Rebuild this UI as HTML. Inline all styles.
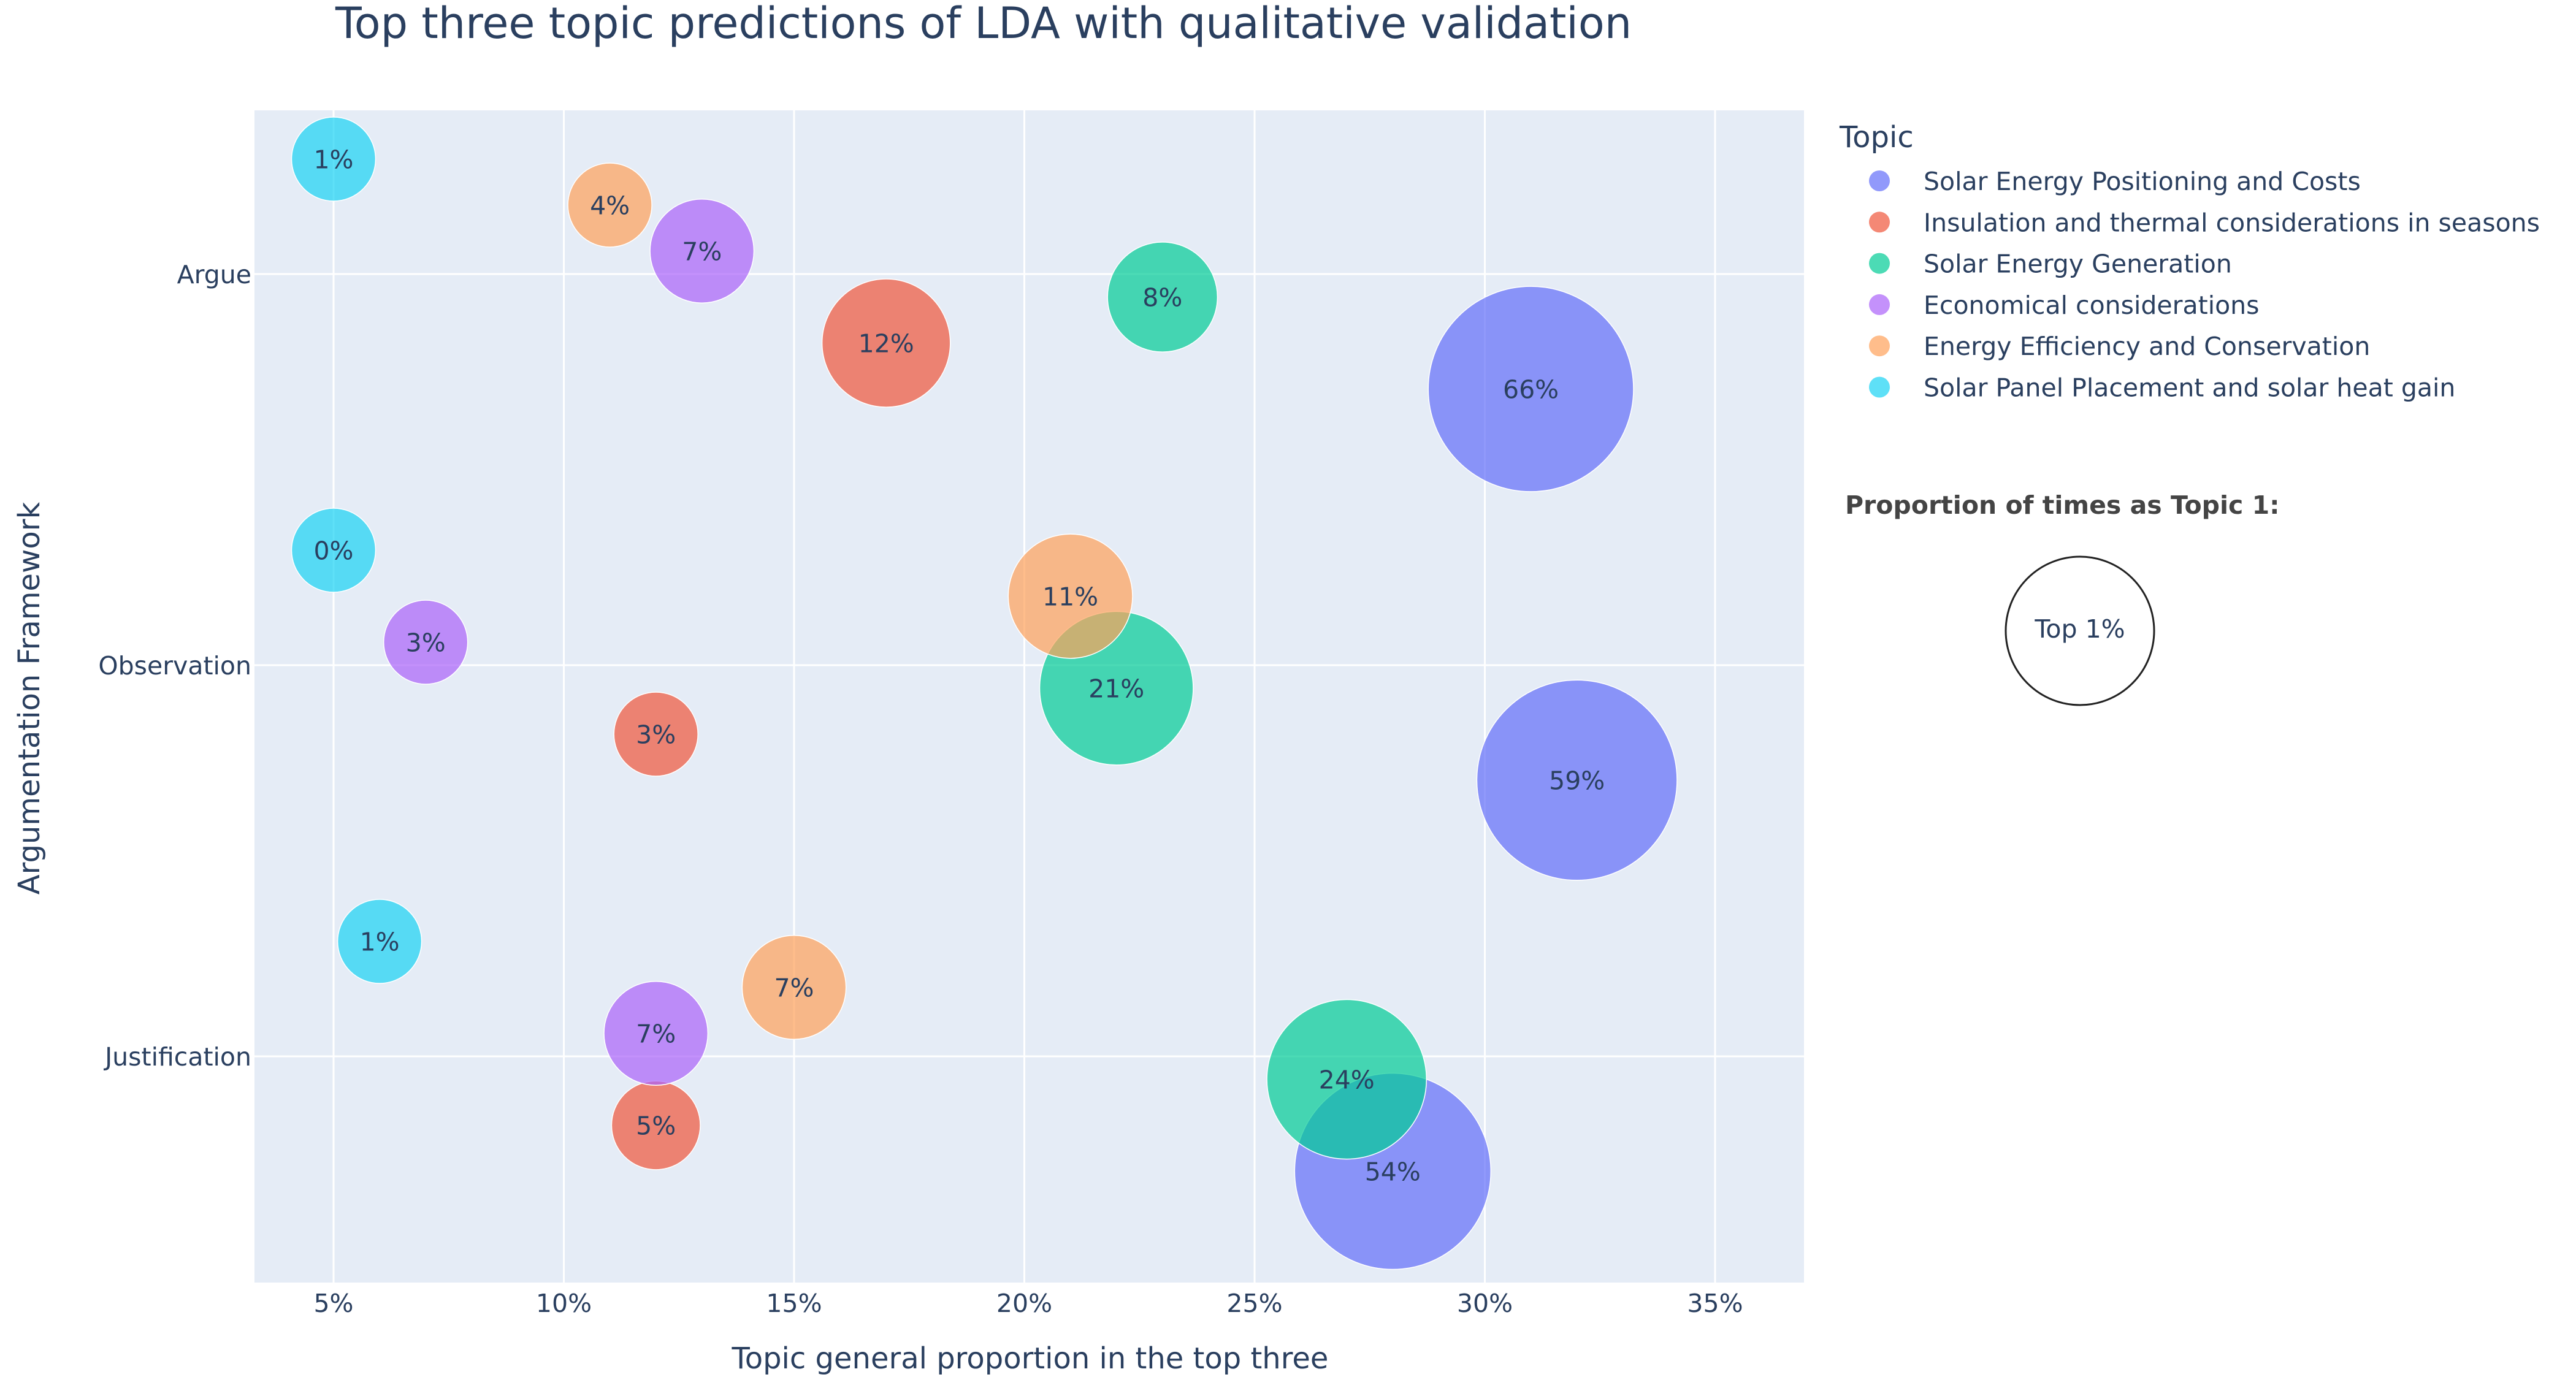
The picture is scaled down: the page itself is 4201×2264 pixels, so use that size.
<!DOCTYPE html>
<html><head><meta charset="utf-8">
<style>
html,body{margin:0;padding:0;background:#fff;}
svg{display:block;font-family:"DejaVu Sans","Liberation Sans",sans-serif;}
</style></head>
<body>
<svg id="chart" width="4201" height="2264" viewBox="0 0 4201 2264" xmlns="http://www.w3.org/2000/svg">
<rect x="0" y="0" width="4201" height="2264" fill="#fff"/>
<text x="1604" y="62" font-size="70" fill="#2a3f5f" text-anchor="middle">Top three topic predictions of LDA with qualitative validation</text>
<rect x="415" y="180" width="2527" height="1912" fill="#e5ecf6"/>
<g id="grid"></g>
<g id="xticks"></g>
<g id="yticks"></g>
<g id="bubbles"></g>
<text x="1680" y="2232" font-size="48" fill="#2a3f5f" text-anchor="middle">Topic general proportion in the top three</text>
<text transform="translate(64,1139) rotate(-90)" font-size="48" fill="#2a3f5f" text-anchor="middle">Argumentation Framework</text>
<g id="legend"></g>
<text x="3009" y="838" font-size="41" font-weight="bold" fill="#444">Proportion of times as Topic 1:</text>
<circle cx="3392" cy="1029" r="121" fill="none" stroke="#222" stroke-width="3"/>
<text x="3392" y="1040" font-size="41" fill="#2a3f5f" text-anchor="middle">Top 1%</text>
</svg>
<script>
const topics = ["Solar Energy Positioning and Costs","Insulation and thermal considerations in seasons","Solar Energy Generation","Economical considerations","Energy Efficiency and Conservation","Solar Panel Placement and solar heat gain"];
const colors = ["#636efa","#EF553B","#00cc96","#ab63fa","#FFA15A","#19d3f3"];
const categories = ["Argue","Observation","Justification"];
const xTicks = [5,10,15,20,25,30,35];
// x values per topic per category (Argue, Observation, Justification)
const xCosts = [31,32,28];
const xInsul = [17,12,12];
const xGen = [23,22,27];
const xEcon = [13,7,12];
const xEff = [11,21,15];
const xPanel = [5,5,6];
// proportion labels per topic per category
const pCosts = [66,59,54];
const pInsul = [12,3,5];
const pGen = [8,21,24];
const pEcon = [7,3,7];
const pEff = [4,11,7];
const pPanel = [1,0,1];

const xs=[xCosts,xInsul,xGen,xEcon,xEff,xPanel];
const ps=[pCosts,pInsul,pGen,pEcon,pEff,pPanel];
const offsets=[70,42,14,-14,-42,-70].map(v=>v*2.679);
const NS="http://www.w3.org/2000/svg";
const xScale=v=>544+(v-5)*75.1;
const yScale=i=>447+i*638;
const dia=v=>Math.max(137,26+73.7*Math.log(Math.max(v,0.01)));
function mk(tag,attrs,parent){const e=document.createElementNS(NS,tag);for(const k in attrs)e.setAttribute(k,attrs[k]);parent.appendChild(e);return e;}
const grid=document.getElementById('grid'),xt=document.getElementById('xticks'),yt=document.getElementById('yticks');
xTicks.forEach(t=>{
  const l=mk('line',{x1:xScale(t),x2:xScale(t),y1:180,y2:2092,stroke:'#fff','stroke-width':3},grid);
  
  
  const tx=mk('text',{x:xScale(t),y:2140,'font-size':41,fill:'#2a3f5f','text-anchor':'middle'},xt);
  tx.textContent=t+'%';
  
  
});
categories.forEach((c,i)=>{
  const l=mk('line',{x1:415,x2:2942,y1:yScale(i),y2:yScale(i),stroke:'#fff','stroke-width':3},grid);
  
  
  const tx=mk('text',{x:410,y:yScale(i)+15,'font-size':41,fill:'#2a3f5f','text-anchor':'end'},yt);
  tx.textContent=c;
  
  
});
const bg=document.getElementById('bubbles');
topics.forEach((t,ti)=>{
  categories.forEach((c,ci)=>{
    const cx=xScale(xs[ti][ci]),cy=yScale(ci)+offsets[ti],r=dia(ps[ti][ci])/2;
    const g=mk('g',{},bg);
    
    
    mk('circle',{cx:cx,cy:cy,r:r,fill:colors[ti],'fill-opacity':0.7,stroke:'#fff','stroke-width':1.5},g);
    const tx=mk('text',{x:cx,y:cy+15,'font-size':41,fill:'#2a3f5f','text-anchor':'middle'},g);
    tx.textContent=ps[ti][ci]+'%';
    
    
  });
});
const lg=document.getElementById('legend');
const lt=mk('text',{x:3000,y:240,'font-size':48,fill:'#2a3f5f'},lg);
lt.textContent='Topic';


topics.forEach((t,i)=>{
  const y=295+i*67.3;
  const g=mk('g',{},lg);
  
  
  mk('circle',{cx:3065,cy:y,r:17,fill:colors[i],'fill-opacity':0.7},g);
  const tx=mk('text',{x:3137,y:y+15,'font-size':41,fill:'#2a3f5f'},g);
  tx.textContent=t;
});
</script>
</body></html>
